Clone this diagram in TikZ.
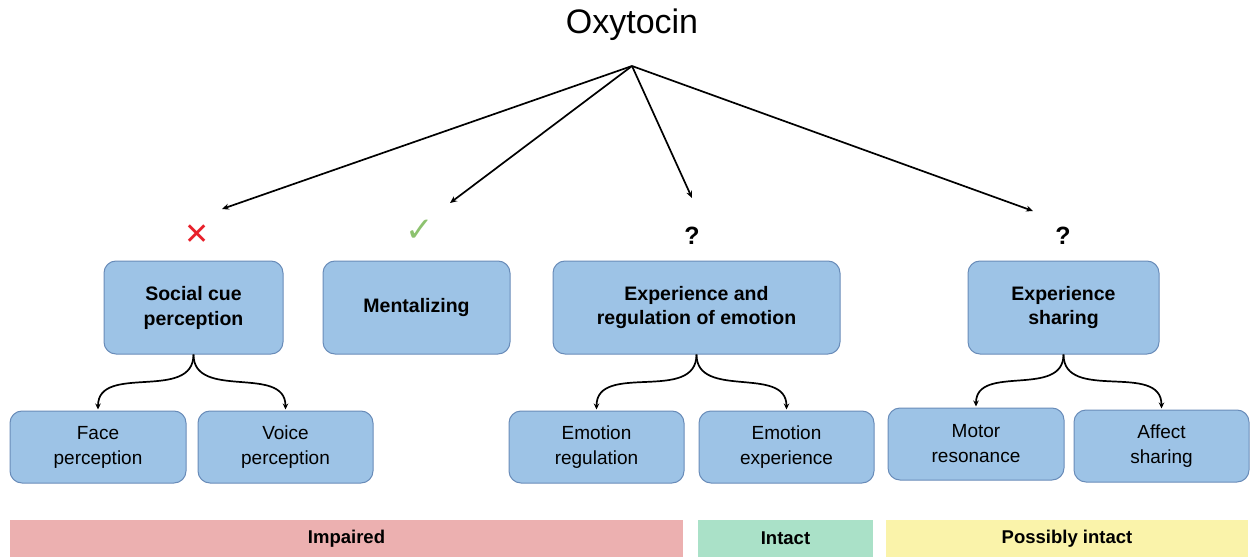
\documentclass[tikz,border=0pt]{standalone}
\usepackage{fontspec}
\setmainfont{Liberation Sans}
\newfontfamily\symfont{DejaVu Sans}
\usetikzlibrary{arrows.meta}
\definecolor{boxfill}{RGB}{157,195,230}
\definecolor{boxdraw}{RGB}{105,140,185}
\definecolor{impfill}{RGB}{236,176,176}
\definecolor{intfill}{RGB}{170,225,200}
\definecolor{posfill}{RGB}{250,243,170}
\definecolor{crossred}{RGB}{232,32,42}
\definecolor{checkgreen}{RGB}{141,194,111}
\begin{document}
\begin{tikzpicture}[x=1pt,y=1pt,
  topbox/.style={draw=boxdraw, fill=boxfill, rounded corners=12pt, line width=1pt,
    minimum height=93pt, align=center, inner sep=0pt,
    font=\fontsize{19.5}{25}\selectfont\bfseries},
  subbox/.style={draw=boxdraw, fill=boxfill, rounded corners=12pt, line width=1pt,
    minimum height=72pt, align=center, inner sep=0pt,
    font=\fontsize{19}{25}\selectfont},
  bar/.style={minimum height=37pt, inner sep=0pt, font=\fontsize{18.5}{22}\selectfont\bfseries},
  conn/.style={line width=1.7pt, -{Stealth[length=7pt,width=6pt]}},
  branch/.style={line width=1.7pt, -{Stealth[length=6pt,width=5.5pt]}, shorten >=1pt},
  qmark/.style={font=\fontsize{25}{25}\selectfont\bfseries}
]
\useasboundingbox (0,0) rectangle (1256,558);

% title
\node[font=\fontsize{34}{34}\selectfont] (oxy) at (632,533) {Oxytocin};
\coordinate (src) at (632,492);

% top boxes
\node[topbox, minimum width=179pt] (sc) at (193.5,250.5) {Social cue\\perception};
\node[topbox, minimum width=187pt] (ment) at (416.5,250.5) {Mentalizing};
\node[topbox, minimum width=287pt] (exp) at (696.5,250.5) {Experience and\\regulation of emotion};
\node[topbox, minimum width=191pt] (sh) at (1063.5,250.5) {Experience\\sharing};

% marks
\node[text=crossred, font=\symfont\fontsize{30}{30}\selectfont] (mx) at (197,323) {✕};
\node[text=checkgreen, font=\symfont\fontsize{34}{34}\selectfont] (mc) at (420,327) {✓};
\node[qmark] (q1) at (692,322) {?};
\node[qmark] (q2) at (1063,322) {?};

% arrow ends
\coordinate (e1) at (222,349);
\coordinate (e2) at (450,355);
\coordinate (e3) at (692,360);
\coordinate (e4) at (1033,347);

\draw[conn] (src) -- (e1);
\draw[conn] (src) -- (e2);
\draw[conn] (src) -- (e3);
\draw[conn] (src) -- (e4);

% sub boxes
\node[subbox, minimum width=176pt] (face) at (98,111) {Face\\perception};
\node[subbox, minimum width=175pt] (voice) at (285.5,111) {Voice\\perception};
\node[subbox, minimum width=175pt] (ereg) at (596.5,111) {Emotion\\regulation};
\node[subbox, minimum width=175pt] (eexp) at (786.5,111) {Emotion\\experience};
\node[subbox, minimum width=176pt] (motor) at (976,114) {Motor\\resonance};
\node[subbox, minimum width=175pt] (affect) at (1161.5,112) {Affect\\sharing};

% branches
\draw[branch] (sc.south) to[out=-90,in=90,looseness=1.1] (face.north);
\draw[branch] (sc.south) to[out=-90,in=90,looseness=1.1] (voice.north);
\draw[branch] (exp.south) to[out=-90,in=90,looseness=1.1] (ereg.north);
\draw[branch] (exp.south) to[out=-90,in=90,looseness=1.1] (eexp.north);
\draw[branch] (sh.south) to[out=-90,in=90,looseness=1.1] (motor.north);
\draw[branch] (sh.south) to[out=-90,in=90,looseness=1.1] (affect.north);

% bars
\node[bar, fill=impfill, minimum width=673pt] (imp) at (346.5,19.5) {Impaired};
\node[bar, fill=intfill, minimum width=175pt] (int) at (785.5,19.5) {Intact};
\node[bar, fill=posfill, minimum width=362pt] (pos) at (1067,19.5) {Possibly intact};
\end{tikzpicture}
\end{document}
